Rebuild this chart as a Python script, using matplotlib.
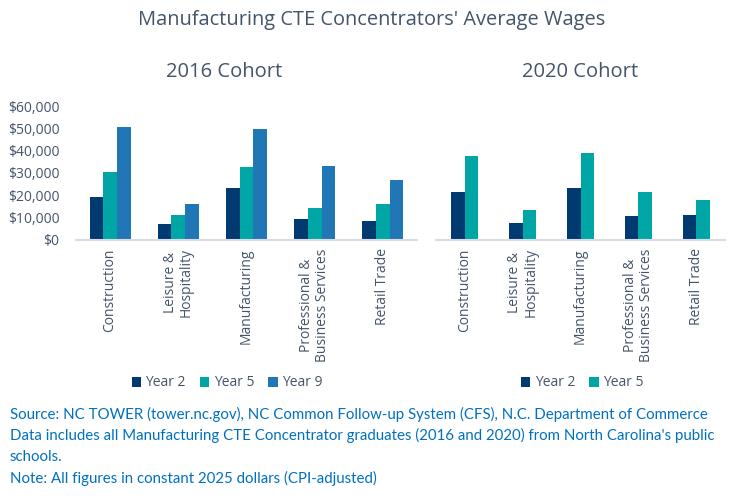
import matplotlib.pyplot as plt
import numpy as np
from matplotlib.ticker import FuncFormatter

cats = ["Construction", "Leisure &\nHospitality", "Manufacturing",
        "Professional &\nBusiness Services", "Retail Trade"]

# 2016 cohort
c16_y2 = [19300, 7200, 23100, 9400, 8700]
c16_y5 = [30400, 11200, 32800, 14200, 16000]
c16_y9 = [50700, 16100, 49800, 33300, 26700]

# 2020 cohort
c20_y2 = [21600, 7800, 23400, 10900, 11300]
c20_y5 = [37500, 13600, 39000, 21400, 17800]

col_y2 = "#003A70"
col_y5 = "#00A6A6"
col_y9 = "#2177B5"
txt = "#44546A"
note_col = "#0070C0"

plt.rcParams['font.family'] = ['Open Sans', 'DejaVu Sans']

fig = plt.figure(figsize=(7.44, 5.0), dpi=100)
W, H = 744, 500
ax1 = fig.add_axes([76 / W, 1 - 240 / H, (417 - 76) / W, 134 / H])
ax2 = fig.add_axes([436 / W, 1 - 240 / H, (725 - 436) / W, 134 / H])

x = np.arange(len(cats))
bw = 0.2
ax1.bar(x - bw, c16_y2, bw, color=col_y2, label="Year 2")
ax1.bar(x, c16_y5, bw, color=col_y5, label="Year 5")
ax1.bar(x + bw, c16_y9, bw, color=col_y9, label="Year 9")

bw2 = 0.235
ax2.bar(x - bw2 / 2, c20_y2, bw2, color=col_y2, label="Year 2")
ax2.bar(x + bw2 / 2, c20_y5, bw2, color=col_y5, label="Year 5")

for ax in (ax1, ax2):
    ax.set_ylim(0, 60000)
    ax.set_xlim(-0.5, 4.5)
    ax.set_xticks(x)
    ax.set_xticklabels(cats, rotation=90, fontsize=10, color=txt, linespacing=1.1)
    ax.tick_params(axis='x', length=0, pad=6)
    for s in ("top", "right", "left"):
        ax.spines[s].set_visible(False)
    ax.spines["bottom"].set_color("#D9DCE6")
    ax.spines["bottom"].set_linewidth(1.5)

ax1.set_yticks(np.arange(0, 60001, 10000))
ax1.yaxis.set_major_formatter(FuncFormatter(lambda v, p: "${:,.0f}".format(v)))
ax1.tick_params(axis='y', length=0, labelsize=10, labelcolor=txt, pad=12)
ax2.set_yticks([])

fig.text(0.5, 1 - 20 / H, "Manufacturing CTE Concentrators' Average Wages",
         ha='center', va='center', fontsize=14.4, color=txt)
fig.text(224 / W, 1 - 72 / H, "2016 Cohort", ha='center', va='center',
         fontsize=14.5, color=txt)
fig.text(580 / W, 1 - 72 / H, "2020 Cohort", ha='center', va='center',
         fontsize=14.5, color=txt)

leg_kw = dict(frameon=False, ncol=3, fontsize=10, handlelength=0.7,
              handleheight=0.7, handletextpad=0.3, columnspacing=1.0,
              loc='center', labelcolor=txt)
ax1.legend(bbox_to_anchor=(227 / W, 1 - 383 / H), bbox_transform=fig.transFigure, **leg_kw)
ax2.legend(bbox_to_anchor=(582 / W, 1 - 383 / H), bbox_transform=fig.transFigure, **leg_kw)

notes = ["Source: NC TOWER (tower.nc.gov), NC Common Follow-up System (CFS), N.C. Department of Commerce",
         "Data includes all Manufacturing CTE Concentrator graduates (2016 and 2020) from North Carolina's public",
         "schools.",
         "Note: All figures in constant 2025 dollars (CPI-adjusted)"]
for i, line in enumerate(notes):
    fig.text(10 / W, 1 - (414 + i * 21.5) / H, line, ha='left', va='center',
             fontsize=10.8, color=note_col,
             family=['Lato', 'DejaVu Sans'])

fig.savefig("out.png", dpi=100)
